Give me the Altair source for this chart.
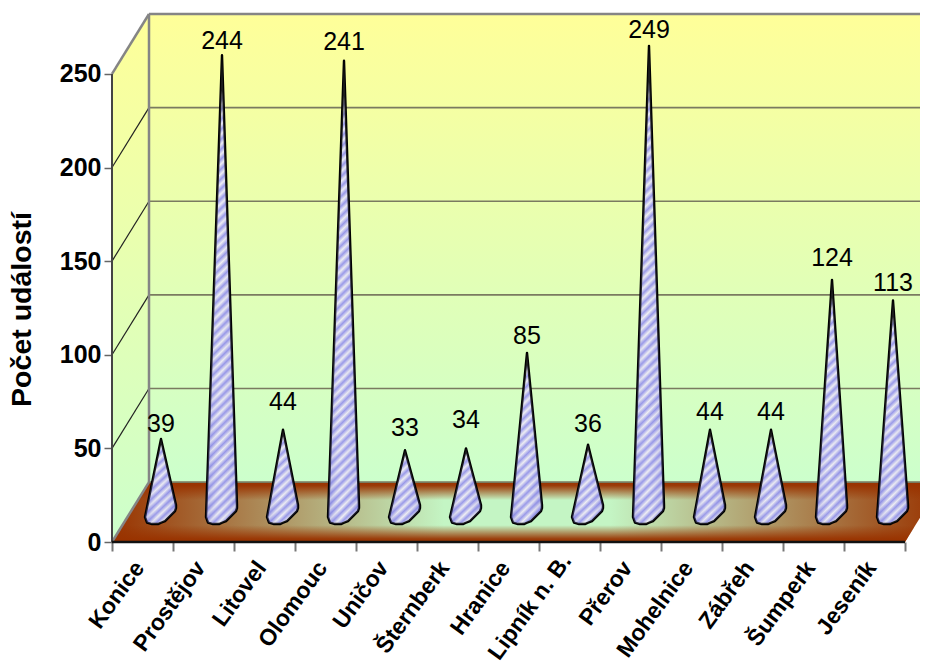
import altair as alt
import numpy as np
import pandas as pd

CATEGORIES = ["Konice", "Prostějov", "Litovel", "Olomouc", "Uničov", "Šternberk", "Hranice",
              "Lipník n. B.", "Přerov", "Mohelnice", "Zábřeh", "Šumperk", "Jeseník"]
VALUES = [39, 244, 44, 241, 33, 34, 85, 36, 249, 44, 44, 124, 113]
Y_TICKS = [0, 50, 100, 150, 200, 250]

FONT = "Liberation Sans"
W, H = 808, 528
N = len(CATEGORIES)
CAT_PX = 61.0
DEPTH_X = 37 / CAT_PX
DEPTH_Y = 32.0
X_TOP = W / CAT_PX
Y_TOP = 282.0
VAL_PX = H / Y_TOP

xs = alt.Scale(domain=[0, X_TOP], range=[0, W], nice=False, zero=False)
ys = alt.Scale(domain=[0, Y_TOP], range=[H, 0], nice=False, zero=False)

X_AXIS = alt.Axis(values=list(range(N + 1)), labels=False, grid=False, domain=False, title=None,
                  tickColor="#777777", tickWidth=2, tickSize=9)
Y_AXIS = alt.Axis(values=Y_TICKS, grid=False, domain=False, tickColor="#666666", tickWidth=1.5,
                  tickSize=8, labelFont=FONT, labelFontSize=25, labelFontWeight="bold",
                  labelColor="black", labelPadding=3, title="Počet událostí",
                  titleFont=FONT, titleFontSize=28.5, titleFontWeight="bold", titleColor="black",
                  titleX=-76, titleY=295, titleAngle=270, titleAlign="center")


def X(f="x"):
    return alt.X(f"{f}:Q", scale=xs, axis=X_AXIS)


def Y(f="y"):
    return alt.Y(f"{f}:Q", scale=ys, axis=Y_AXIS)


WALL = {"gradient": "linear", "x1": 0, "y1": 0, "x2": 0, "y2": 1,
        "stops": [{"offset": 0, "color": "#FFFF99"}, {"offset": 1, "color": "#CCFFCC"}]}
FLOOR_H = {"gradient": "linear", "x1": 0, "y1": 0, "x2": 1, "y2": 0,
           "stops": [{"offset": 0, "color": "#993300"}, {"offset": 0.40, "color": "#C4F5C4"},
                     {"offset": 0.60, "color": "#C4F5C4"}, {"offset": 1, "color": "#993300"}]}
FLOOR_V = {"gradient": "linear", "x1": 0, "y1": 0, "x2": 0, "y2": 1,
           "stops": [{"offset": 0, "color": "rgba(153,51,0,1)"}, {"offset": 0.06, "color": "rgba(153,51,0,0.95)"},
                     {"offset": 0.30, "color": "rgba(153,51,0,0)"}, {"offset": 0.72, "color": "rgba(153,51,0,0)"},
                     {"offset": 0.95, "color": "rgba(153,51,0,0.95)"}, {"offset": 1, "color": "rgba(153,51,0,1)"}]}
EDGE_SHADE = {"gradient": "linear", "x1": 0, "y1": 0, "x2": 1, "y2": 0,
              "stops": [{"offset": 0, "color": "rgba(110,110,210,0.35)"}, {"offset": 0.45, "color": "rgba(255,255,255,0.1)"},
                        {"offset": 1, "color": "rgba(110,110,210,0.25)"}]}


def stripes(wpx, hpx, period=10.0):
    a, b = wpx / (wpx + hpx), hpx / (wpx + hpx)
    n = (wpx + hpx) / period
    stops = []
    i = 0
    while i / n < 1:
        stops.append({"offset": float(i / n), "color": "#8E8EE6"})
        if (i + 0.5) / n < 1:
            stops.append({"offset": float((i + 0.5) / n), "color": "#EDEDF2"})
        i += 1
    d = a * a + b * b
    return {"gradient": "linear", "x1": 0, "y1": 0, "x2": a / d, "y2": b / d, "stops": stops}


# --- walls and floor
back = alt.Chart(pd.DataFrame({"x": [DEPTH_X], "x2": [X_TOP], "y": [DEPTH_Y], "y2": [Y_TOP]})).mark_rect(fill=WALL).encode(
    x=X(), x2="x2:Q", y=Y(), y2="y2:Q")
side = alt.Chart(pd.DataFrame({"x": [0, DEPTH_X], "y": [0, DEPTH_Y], "y2": [250, Y_TOP]})).mark_area(fill=WALL).encode(
    x=X(), y=Y(), y2="y2:Q")
floor_df = pd.DataFrame({"y": [0, DEPTH_Y], "x": [0, DEPTH_X], "x2": [N, N + DEPTH_X]})
floor1 = alt.Chart(floor_df).mark_area(orient="horizontal", fill=FLOOR_H).encode(x=X(), x2="x2:Q", y=Y())
floor2 = alt.Chart(floor_df).mark_area(orient="horizontal", fill=FLOOR_V).encode(x=X(), x2="x2:Q", y=Y())


def lines(segments, color, width):
    rows = []
    for g, seg in enumerate(segments):
        for px, py in seg:
            rows.append({"g": g, "x": px, "y": py})
    return alt.Chart(pd.DataFrame(rows)).mark_line(color=color, strokeWidth=width, clip=False).encode(
        x=X(), y=Y(), detail="g:N")


grid = lines([[(DEPTH_X, v + DEPTH_Y), (X_TOP, v + DEPTH_Y)] for v in Y_TICKS[:-1]], "#7A7A60", 1.6)
side_grid = lines([[(0, v), (DEPTH_X, v + DEPTH_Y)] for v in Y_TICKS[1:-1]], "#222222", 1.2)
edges = lines([[(DEPTH_X, DEPTH_Y), (DEPTH_X, Y_TOP)], [(DEPTH_X, Y_TOP), (X_TOP, Y_TOP)],
               [(0, 250), (DEPTH_X, Y_TOP)], [(0, 0), (DEPTH_X, DEPTH_Y)]], "#858585", 2.5)
front_axis = lines([[(0, 0), (0, 250)]], "#444444", 2)
front_floor = lines([[(0, 0), (N, 0)]], "#111111", 2.5)

# --- cones
MID_X = DEPTH_X / 2
MID_Y = DEPTH_Y / 2
LOW_DX = [-16, -14, -9, -3, 4, 14, 15]
LOW_DY = [5, 10.5, 12, 12, 9, -1, -4]
KNOTS = [-16, -14, -9, -3, 0, 4, 14, 15]

cones = []
for i, (cat, val) in enumerate(zip(CATEGORIES, VALUES)):
    cx = i + 0.5 + MID_X
    h = val * VAL_PX
    up = np.interp(KNOTS, [-16, 0, 15], [5, -h, -7])
    low = np.interp(KNOTS, LOW_DX, LOW_DY)
    df = pd.DataFrame({
        "x": [cx + k / CAT_PX for k in KNOTS],
        "y": MID_Y - up / VAL_PX,
        "y2": MID_Y - low / VAL_PX,
    })
    wpx, hpx = 31.0, h + 17
    cones.append(alt.Chart(df).mark_area(fill=stripes(wpx, hpx), stroke="black", strokeWidth=2.4,
                                         strokeJoin="round").encode(x=X(), y=Y(), y2="y2:Q"))
    cones.append(alt.Chart(df).mark_area(fill=EDGE_SHADE).encode(x=X(), y=Y(), y2="y2:Q"))

# --- texts
label_df = pd.DataFrame({"x": [i + 0.5 + MID_X for i in range(N)], "y": [MID_Y + v for v in VALUES],
                         "t": [str(v) for v in VALUES]})
LABEL_GAPS = [15, 14, 28, 19, 22, 28, 17, 21, 16, 18, 18, 22, 17]
value_labels = [
    alt.Chart(label_df.iloc[[i]]).mark_text(font=FONT, fontSize=25, color="black", baseline="middle", dy=-gap).encode(
        x=X(), y=Y(), text="t:N")
    for i, gap in enumerate(LABEL_GAPS)
]
cat_df = pd.DataFrame({"x": [i + 0.5 - 3 / CAT_PX for i in range(N)], "t": CATEGORIES})
LONGEST = CATEGORIES.index("Lipník n. B.")
cat_labels = alt.Chart(cat_df.drop(index=LONGEST)).mark_text(
    font=FONT, fontSize=23, fontWeight="bold", color="black", align="right",
    baseline="middle", angle=306).encode(x=X(), y=alt.value(H + 22), text="t:N")
cat_long = alt.Chart(cat_df.iloc[[LONGEST]]).mark_text(
    font=FONT, fontSize=23, fontWeight="bold", color="black", align="right",
    baseline="middle", angle=306).encode(x=X(), y=alt.value(H + 15), text="t:N")

chart = alt.layer(back, side, floor1, floor2, grid, side_grid, edges, front_axis, front_floor,
                  *cones, *value_labels, cat_labels, cat_long).properties(
    width=W, height=H, autosize=alt.AutoSizeParams(type="none"),
    padding={"left": 104, "top": 6, "right": 0, "bottom": 121},
    background="white",
).configure_view(stroke=None)

chart.save("out.html", embed_options={"renderer": "svg", "actions": False})
